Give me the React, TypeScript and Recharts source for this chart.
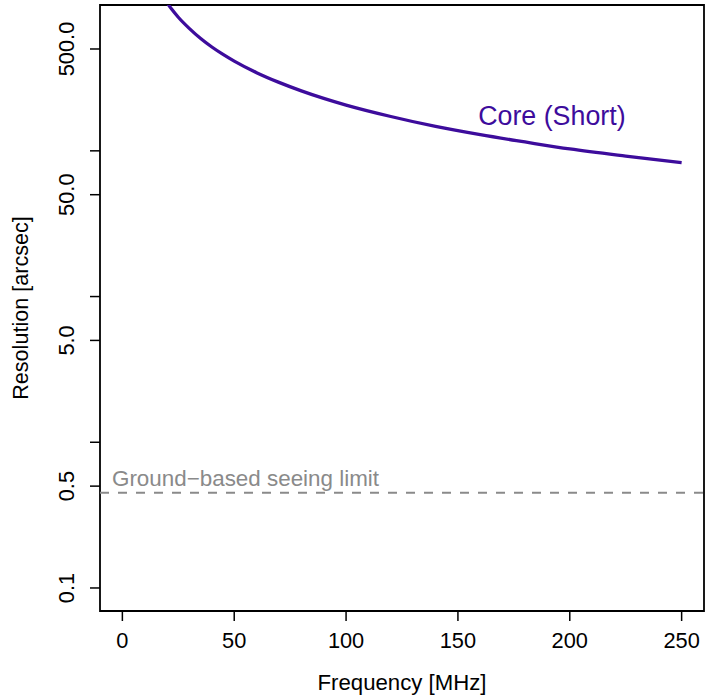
import {
  Label,
  Line,
  LineChart,
  ReferenceArea,
  ReferenceDot,
  ReferenceLine,
  XAxis,
  YAxis,
} from 'recharts';

const FONT = '"Liberation Sans", Arial, Helvetica, sans-serif';
const CORE_COLOR = '#3d0c9c';
const SEEING_COLOR = '#8a8a8a';

// frequency [MHz] and core (short baseline) resolution [arcsec]
const frequencies = [19, 22, 25, 30, 35, 40, 45, 50, 60, 70, 80, 90, 100, 120, 140, 160, 180, 200, 225, 250];
const coreResolution = [1090, 940, 826, 690, 590, 516, 459, 413, 344, 295, 258, 229, 206, 172, 147, 129, 115, 103, 92, 83];

const seeingLimit = 0.45;

const xTicks = [0, 50, 100, 150, 200, 250];
const yTicks = [0.1, 0.5, 1, 5, 10, 50, 100, 500];
const yTickLabels = ['0.1', '0.5', '', '5.0', '', '50.0', '', '500.0'];

const X_DOMAIN: [number, number] = [-10, 260];
const Y_DOMAIN: [number, number] = [0.0695, 1002];

// where the curve's name sits, in data units
const coreLabelAt = { x: 192, y: 150 };

const data = frequencies.map((f, i) => ({ f, core: coreResolution[i] }));

function XTick(props: any) {
  const { x, payload } = props;
  return (
    <text x={x} y={648} textAnchor="middle" fontSize={21.8} fontFamily={FONT} fill="#000">
      {payload.value}
    </text>
  );
}

function YTick(props: any) {
  const { y, payload } = props;
  const idx = yTicks.indexOf(payload.value);
  const label = idx >= 0 ? yTickLabels[idx] : '';
  if (!label) return <g />;
  return (
    <text
      transform={`translate(74, ${y}) rotate(-90)`}
      textAnchor="middle"
      fontSize={21.8}
      fontFamily={FONT}
      fill="#000"
    >
      {label}
    </text>
  );
}

export default function App() {
  return (
    <div style={{ position: 'absolute', left: 0, top: 0 }}>
      <LineChart width={705} height={700} data={data} margin={{ top: 5, right: 1, bottom: 0, left: 0 }}>
        <XAxis
          dataKey="f"
          type="number"
          domain={X_DOMAIN}
          ticks={xTicks}
          interval={0}
          allowDataOverflow
          height={89}
          axisLine={false}
          tickSize={10}
          tickLine={{ stroke: '#000', strokeWidth: 1.5 }}
          tick={<XTick />}
          label={
            <Label
              content={() => (
                <text x={402} y={690} textAnchor="middle" fontSize={22.2} fontFamily={FONT} fill="#000">
                  Frequency [MHz]
                </text>
              )}
            />
          }
        />
        <YAxis
          type="number"
          scale="log"
          domain={Y_DOMAIN}
          ticks={yTicks}
          interval={0}
          allowDataOverflow
          width={100}
          axisLine={false}
          tickSize={10}
          tickLine={{ stroke: '#000', strokeWidth: 1.5 }}
          tick={<YTick />}
          label={
            <Label
              content={() => (
                <text
                  transform="translate(28, 308) rotate(-90)"
                  textAnchor="middle"
                  fontSize={21.6}
                  fontFamily={FONT}
                  fill="#000"
                >
                  Resolution [arcsec]
                </text>
              )}
            />
          }
        />
        <ReferenceLine
          y={seeingLimit}
          stroke={SEEING_COLOR}
          strokeWidth={2}
          strokeDasharray="9 9"
          label={
            <Label
              content={(p: any) => (
                <text
                  x={p.viewBox.x + 12}
                  y={p.viewBox.y - 7}
                  fontSize={22.4}
                  fontFamily={FONT}
                  fill={SEEING_COLOR}
                >
                  Ground−based seeing limit
                </text>
              )}
            />
          }
        />
        <Line
          dataKey="core"
          type="monotone"
          stroke={CORE_COLOR}
          strokeWidth={3.3}
          dot={false}
          isAnimationActive={false}
        />
        <ReferenceDot
          x={coreLabelAt.x}
          y={coreLabelAt.y}
          r={0}
          fill="none"
          stroke="none"
          label={
            <Label
              content={(p: any) => {
                const vb = p.viewBox || {};
                const cx = vb.cx ?? vb.x + (vb.width || 0) / 2;
                const cy = vb.cy ?? vb.y + (vb.height || 0) / 2;
                return (
                  <text x={cx} y={cy} textAnchor="middle" fontSize={26.8} fontFamily={FONT} fill={CORE_COLOR}>
                    Core (Short)
                  </text>
                );
              }}
            />
          }
        />
        <ReferenceArea
          x1={X_DOMAIN[0]}
          x2={X_DOMAIN[1]}
          y1={Y_DOMAIN[0]}
          y2={Y_DOMAIN[1]}
          fill="none"
          stroke="#000"
          strokeWidth={1.8}
          ifOverflow="visible"
        />
      </LineChart>
    </div>
  );
}
